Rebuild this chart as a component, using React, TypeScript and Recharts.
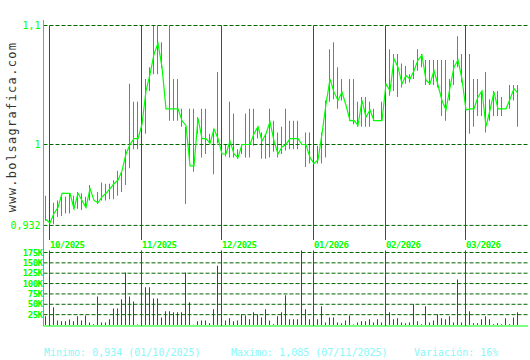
import React from 'react';
import { ComposedChart, BarChart, Bar, Line, XAxis, YAxis, ReferenceLine } from 'recharts';

const closes = [
  0.937, 0.934, 0.942, 0.947, 0.959, 0.959, 0.959, 0.946, 0.959, 0.953,
  0.947, 0.963, 0.953, 0.951, 0.956, 0.959, 0.963, 0.967, 0.970, 0.978,
  0.992, 1.000, 1.005, 1.005, 1.017, 1.045, 1.059, 1.076, 1.085, 1.065,
  1.030, 1.030, 1.030, 1.030, 1.020, 1.016, 0.982, 0.982, 1.022, 1.005,
  1.005, 1.001, 1.013, 1.005, 0.992, 0.992, 1.003, 0.992, 0.989, 1.000,
  1.000, 1.000, 1.009, 1.015, 1.003, 1.009, 1.019, 1.003, 0.992, 0.998,
  1.000, 1.005, 1.005, 1.005, 1.000, 1.000, 0.989, 0.984, 0.987, 1.009,
  1.034, 1.055, 1.044, 1.037, 1.044, 1.033, 1.020, 1.020, 1.016, 1.037,
  1.023, 1.029, 1.020, 1.020, 1.020, 1.051, 1.045, 1.072, 1.065, 1.051,
  1.058, 1.055, 1.062, 1.071, 1.075, 1.054, 1.051, 1.062, 1.050, 1.037,
  1.029, 1.048, 1.065, 1.071, 1.055, 1.029, 1.030, 1.030, 1.040, 1.045,
  1.015, 1.029, 1.044, 1.030, 1.030, 1.030, 1.038, 1.047, 1.043,
];

const highs: (number | null)[] = [
  0.957, 0.945, 0.951, 0.953, 0.957, 0.956, 0.959, 0.957, 0.960, 0.959,
  0.956, 0.966, null, 0.960, 0.968, 0.967, 0.967, 0.970, 0.978, 0.977,
  0.996, 1.051, 1.036, 1.036, 1.045, 1.055, 1.065, 1.100, 1.100, 1.086,
  null, 1.100, 1.055, 1.055, 1.030, 1.015, 1.030, 1.030, 1.023, 1.030,
  1.030, 1.009, 1.013, 1.061, 1.005, 1.000, 1.036, 1.026, 0.996, 0.999,
  1.026, 1.030, 1.030, 1.013, 1.010, 1.009, 1.030, 1.020, 1.010, 1.015,
  1.030, 1.020, 1.020, 1.020, null, 1.010, 1.010, 1.010, 0.999, 1.010,
  1.037, 1.080, 1.086, 1.065, 1.055, null, 1.055, 1.055, 1.036, 1.040,
  1.040, 1.036, 1.030, null, 1.036, 1.066, 1.080, 1.076, 1.076, 1.068,
  1.066, 1.059, 1.071, 1.080, 1.076, 1.071, 1.071, 1.071, 1.071, 1.071,
  1.071, 1.055, 1.071, 1.091, 1.076, 1.076, 1.076, 1.055, 1.055, 1.045,
  1.061, 1.038, 1.045, 1.045, 1.040, null, 1.050, 1.050, 1.050,
];

const lows: (number | null)[] = [
  0.936, 0.934, 0.933, 0.939, 0.940, 0.942, 0.942, 0.946, 0.946, 0.945,
  0.947, 0.953, null, 0.950, 0.953, 0.953, 0.954, 0.954, 0.957, 0.960,
  0.966, 0.980, 0.996, 0.996, 1.000, 1.009, 1.045, 1.059, 1.059, 1.064,
  null, 1.020, 1.020, 1.020, 1.015, 0.950, 0.988, 0.977, 1.009, 0.989,
  0.992, 1.001, 0.975, 1.001, 0.990, 0.990, 0.989, 0.989, 0.988, 0.992,
  0.989, 0.989, 0.999, 1.005, 0.988, 0.988, 0.989, 0.994, 0.989, 0.992,
  0.995, 0.996, 0.996, 0.996, null, 0.981, 0.984, 0.984, 0.984, 0.984,
  0.989, 1.036, 1.038, 1.030, 1.037, null, 1.020, 1.017, 1.015, 1.015,
  1.015, 1.015, 1.020, null, 1.020, 1.040, 1.041, 1.045, 1.040, 1.048,
  1.051, 1.052, 1.055, 1.062, 1.065, 1.050, 1.050, 1.050, 1.048, 1.024,
  1.020, 1.037, 1.050, 1.065, 1.052, 1.020, 1.009, 1.015, 1.024, 1.024,
  1.010, 1.020, 1.024, 1.024, 1.024, null, 1.030, 1.037, 1.015,
];

// volume in thousands of shares
const volumesK = [
  21, 18, 43, 11, 9, 9, 13, 9, 21, 11,
  23, 6, 2, 69, 6, 6, 14, 40, 40, 62,
  127, 69, 57, 1, 30, 91, 91, 64, 64, 18,
  33, 33, 31, 31, 31, 127, 55, 0.5, 9, 11,
  11, 4, 38, 143, 20, 11, 16, 9, 11, 26,
  23, 14, 31, 26, 18, 38, 11, 2, 21, 31,
  72, 14, 14, 14, 180, 38, 14, 14, 14, 45,
  6, 18, 18, 6, 4, 11, 23, 1, 6, 9,
  9, 14, 6, 14, 6, 43, 31, 14, 16, 6,
  4, 6, 50, 9, 2, 45, 6, 11, 26, 16,
  14, 21, 6, 110, 6, 23, 33, 4, 4, 14,
  21, 14, 2, 4, 2, 16, 2, 18, 31,
];

const monthIdx = [1, 24, 44, 67, 85, 105];
const monthLabels = ['10/2025', '11/2025', '12/2025', '01/2026', '02/2026', '03/2026'];
const priceTicks = [0.932, 1, 1.1];
const volTicks = [25000, 50000, 75000, 100000, 125000, 150000, 175000];

const statMin = 'Minimo: 0,934 (01/10/2025)';
const statMax = 'Maximo: 1,085 (07/11/2025)';
const statVar = 'Variación: 16%';

const rows = closes.map((c, i) => ({
  i,
  close: c,
  range: highs[i] != null && lows[i] != null ? [lows[i], highs[i]] : null,
  vol: volumesK[i] * 1000,
}));

const X_DOMAIN: [number, number] = [-0.625, 120.5];
const LINE_SHIFT = -0.125; // half a pixel, keeps month rules on pixel grid
const P_DOMAIN: [number, number] = [0.919748, 1.104622];
const V_DOMAIN: [number, number] = [-2414, 205172];

const GREEN = '#00ff00';
const GRID = '#006600';
const MONTH = '#007a00';
const TEAL = '#1aa0b0';
const RED = '#e00000';
const MONO = '"DejaVu Sans Mono", monospace';

const MonthTick = (props: any) => {
  const { x, y, payload } = props;
  const k = monthIdx.indexOf(payload.value - LINE_SHIFT);
  return (
    <text x={x + 0.5} y={y + 8} fill={GREEN} fontSize={9} fontWeight="bold" fontFamily={MONO} letterSpacing={-0.5} textAnchor="start">
      {monthLabels[k]}
    </text>
  );
};

export default function App() {
  const monthPos = monthIdx.map((m) => m + LINE_SHIFT);
  return (
    <div style={{ position: 'absolute', left: 0, top: 0, width: 530, height: 360, background: '#fff', overflow: 'hidden' }}>
      <svg width={30} height={240} style={{ position: 'absolute', left: 0, top: 0 }}>
        <text transform="translate(16,127) rotate(-90)" textAnchor="middle" fontFamily={MONO} fontSize={12} letterSpacing={1.3} fill="#333">
          www.bolsagrafica.com
        </text>
      </svg>
      <div style={{ position: 'absolute', left: 0, top: 0 }}>
        <ComposedChart width={530} height={252} data={rows} margin={{ top: 20, right: 2, bottom: 0, left: 0 }}>
          <XAxis dataKey="i" type="number" domain={X_DOMAIN} allowDataOverflow ticks={monthPos} interval={0} height={12}
            axisLine={false} tickLine={false} tickSize={0} tickMargin={0} tick={<MonthTick />} />
          <YAxis type="number" domain={P_DOMAIN} allowDataOverflow ticks={priceTicks} interval={0} width={43.5}
            axisLine={{ stroke: GREEN }} tickLine={false} tickSize={0} tickMargin={3}
            tick={{ fill: GREEN, fontSize: 10, fontFamily: MONO }}
            tickFormatter={(v: number) => String(v).replace('.', ',')} />
          {priceTicks.map((t) => (
            <ReferenceLine key={'g' + t} y={t} stroke={GRID} strokeDasharray="4 2" />
          ))}
          <Bar dataKey="range" fill={TEAL} barSize={1} isAnimationActive={false} />
          {monthPos.map((m) => (
            <ReferenceLine key={'m' + m} segment={[{ x: m, y: 1.1 }, { x: m, y: P_DOMAIN[0] }]} stroke={MONTH} />
          ))}
          <Line dataKey="close" type="linear" stroke={GREEN} strokeWidth={1.2} dot={false} isAnimationActive={false} />
        </ComposedChart>
      </div>
      <div style={{ position: 'absolute', left: 0, top: 240 }}>
        <BarChart width={530} height={88} data={rows} margin={{ top: 0, right: 2, bottom: 0, left: 0 }}>
          <XAxis dataKey="i" type="number" domain={X_DOMAIN} allowDataOverflow height={2} tick={false} tickLine={false}
            axisLine={{ stroke: GREEN }} />
          <YAxis type="number" domain={V_DOMAIN} allowDataOverflow ticks={volTicks} interval={0} width={43.5}
            axisLine={{ stroke: GREEN }} tickLine={false} tickSize={0} tickMargin={1}
            tick={{ fill: GREEN, fontSize: 9, fontFamily: MONO, fontWeight: 'bold', letterSpacing: -0.5 }}
            tickFormatter={(v: number) => v / 1000 + 'K'} />
          {volTicks.map((t) => (
            <ReferenceLine key={'vg' + t} y={t} stroke={GRID} strokeDasharray="4 2" />
          ))}
          {monthPos.map((m) => (
            <ReferenceLine key={'vm' + m} segment={[{ x: m, y: 180000 }, { x: m, y: V_DOMAIN[0] }]} stroke={MONTH} />
          ))}
          <Bar dataKey="vol" fill={RED} barSize={1} isAnimationActive={false} />
        </BarChart>
      </div>
      <svg width={530} height={30} style={{ position: 'absolute', left: 0, top: 330 }}>
        <g fontFamily={MONO} fontSize={10} fill="#88f8f8">
          <text x={44} y={26}>{statMin}</text>
          <text x={231} y={26}>{statMax}</text>
          <text x={414} y={26}>{statVar}</text>
        </g>
      </svg>
    </div>
  );
}
